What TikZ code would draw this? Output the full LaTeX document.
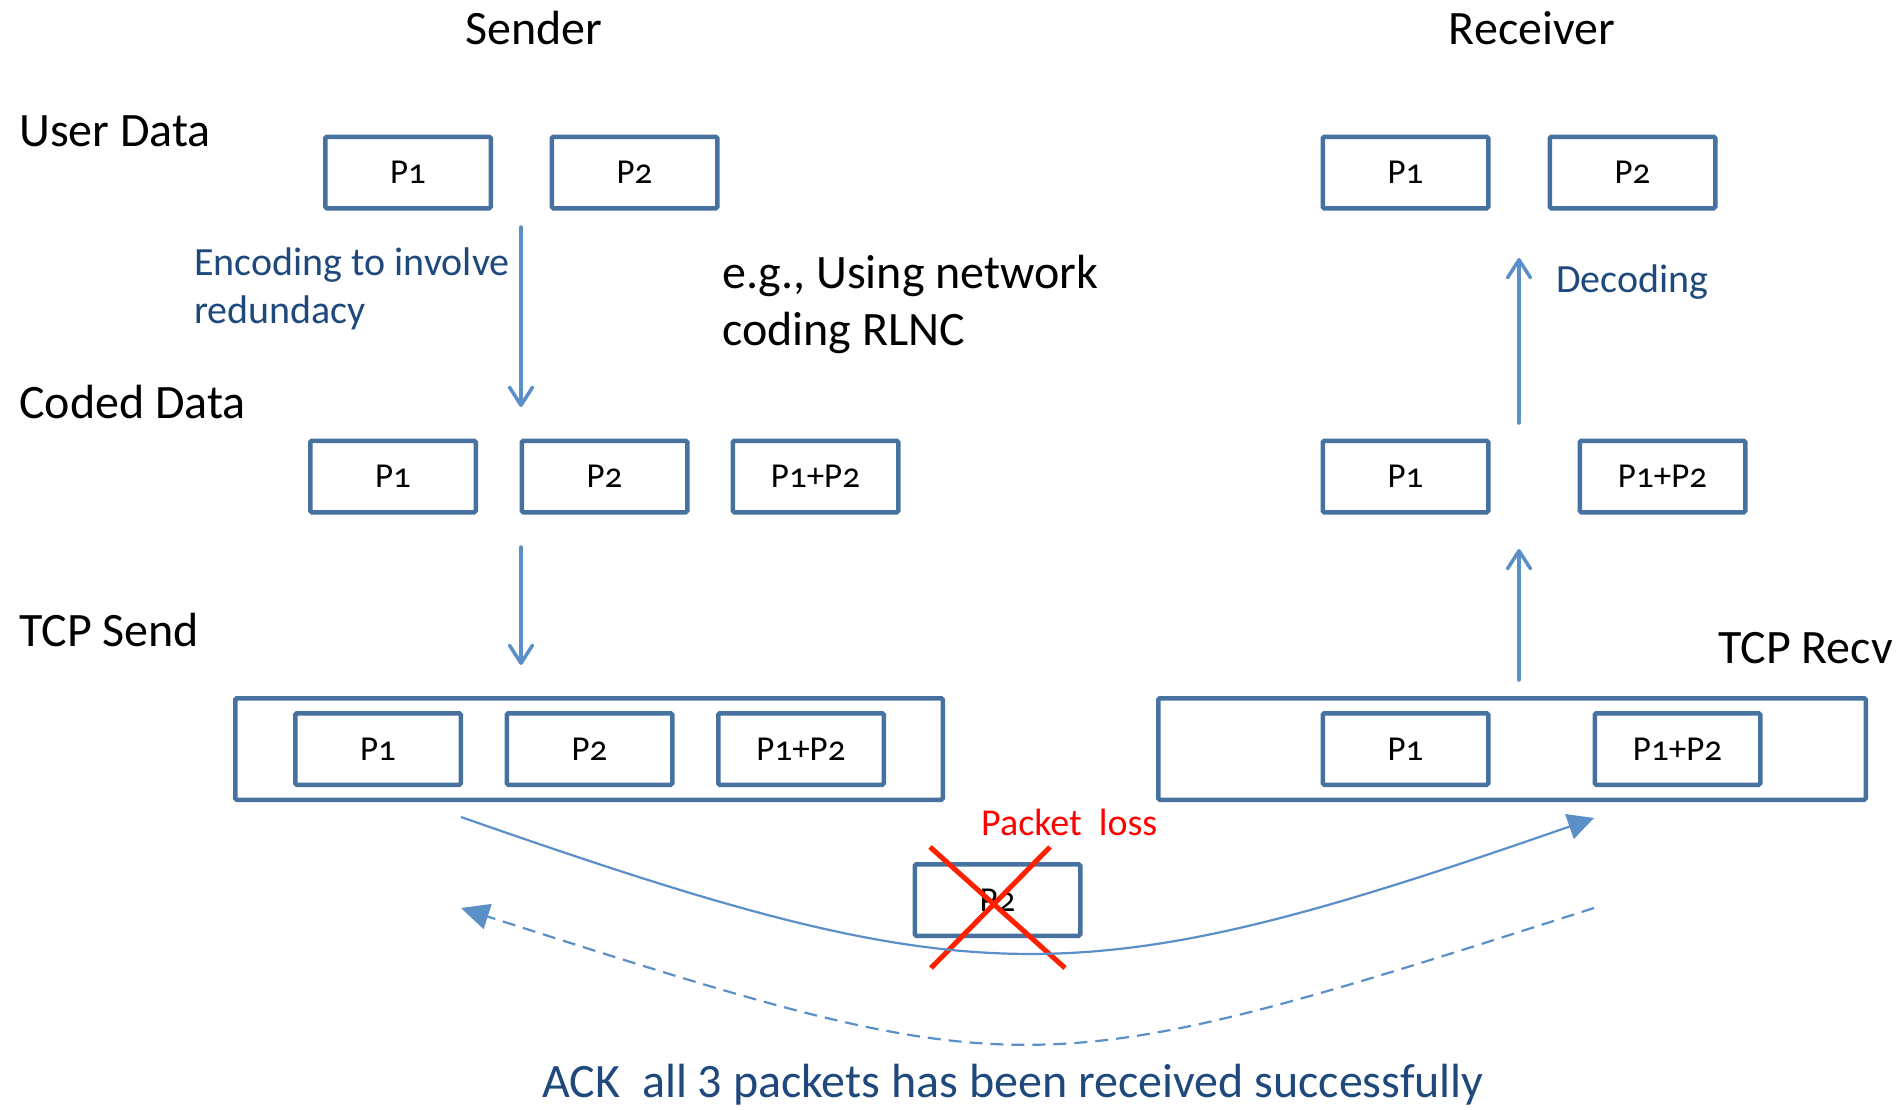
\documentclass[tikz,border=0pt]{standalone}
\usepackage{fontspec}
\setmainfont{Carlito}
\newfontfamily\boxfont[Numbers=OldStyle]{Carlito}
\usetikzlibrary{arrows.meta}
\definecolor{boxc}{RGB}{71,113,159}
\definecolor{arrc}{RGB}{91,143,200}
\definecolor{txtb}{RGB}{31,73,125}
\definecolor{lossred}{RGB}{255,32,0}
\tikzset{
  pbox/.style={draw=boxc, line width=4.5pt, fill=white, rounded corners=1.5pt,
    minimum width=165.5pt, minimum height=71.5pt, inner sep=0pt,
    font=\boxfont\fontsize{35}{40}\selectfont},
  outerbox/.style={draw=boxc, line width=4.5pt, rounded corners=1.5pt,
    minimum width=707.5pt, minimum height=101.5pt, inner sep=0pt},
  big/.style={font=\fontsize{48}{56}\selectfont, inner sep=0pt},
  midtext/.style={font=\fontsize{40}{47}\selectfont, inner sep=0pt, text=txtb},
  varrow/.style={draw=arrc, line width=3.5pt, line cap=round,
    -{Straight Barb[length=18pt,width=23pt,line cap=round,line join=round]}},
  flow/.style={draw=arrc, line width=2.2pt, -{Triangle[length=26pt,width=26pt]}},
  ackflow/.style={draw=arrc, line width=2.2pt, dash pattern=on 13pt off 8pt,
    -{Triangle[length=28pt,width=26pt]}},
  crossline/.style={draw=lossred, line width=5pt}
}
\begin{document}
\begin{tikzpicture}[x=1pt,y=-1pt]
\useasboundingbox (0,0) rectangle (1903,1109);

% headings
\node[big, anchor=base] (sender) at (534,44) {Sender};
\node[big, anchor=base] (receiver) at (1532,44) {Receiver};
\node[big, anchor=base west] (ud) at (19,146) {User Data};
\node[big, anchor=base west] (cd) at (19,418) {Coded Data};
\node[big, anchor=base west] (ts) at (19,646) {TCP Send};
\node[big, anchor=base east] (tr) at (1893,663) {TCP Recv};
\node[big, anchor=base west] (eg1) at (722,288) {e.g., Using network};
\node[big, anchor=base west] (eg2) at (722,345) {coding RLNC};

% user data
\node[pbox] (su1) at (408,172.5) {P1};
\node[pbox] (su2) at (634.5,172.5) {P2};
\node[pbox] (ru1) at (1405.5,172.5) {P1};
\node[pbox] (ru2) at (1632.5,172.5) {P2};

% coded data
\node[pbox] (sc1) at (393,476.5) {P1};
\node[pbox] (sc2) at (604.5,476.5) {P2};
\node[pbox] (sc3) at (815.5,476.5) {P1+P2};
\node[pbox] (rc1) at (1405.5,476.5) {P1};
\node[pbox] (rc3) at (1662.5,476.5) {P1+P2};

% TCP buffers
\node[outerbox] (tsend) at (589,749) {};
\node[outerbox] (trecv) at (1512,749) {};
\node[pbox] (ts1) at (378,749) {P1};
\node[pbox] (ts2) at (589.5,749) {P2};
\node[pbox] (ts3) at (801,749) {P1+P2};
\node[pbox] (tr1) at (1405.5,749) {P1};
\node[pbox] (tr3) at (1677.5,749) {P1+P2};

% lost packet
\node[pbox] (lost) at (997.5,900) {P2};
\coordinate (x1a) at (930,847);
\coordinate (x1b) at (1065,968);
\coordinate (x2a) at (1050,847);
\coordinate (x2b) at (931,968);
\draw[crossline] (x1a) -- (x1b);
\draw[crossline] (x2a) -- (x2b);
\node[inner sep=0pt, anchor=base west, text=red, font=\fontsize{38}{44}\selectfont] (loss) at (981,835) {Packet\hspace{17pt}loss};

% vertical arrows
\coordinate (a1s) at (521,227);
\coordinate (a1e) at (521,407);
\coordinate (a2s) at (521,547);
\coordinate (a2e) at (521,665);
\coordinate (a3s) at (1519,680);
\coordinate (a3e) at (1519,549);
\coordinate (a4s) at (1519,423);
\coordinate (a4e) at (1519,258);
\draw[varrow] (a1s) -- (a1e);
\draw[varrow] (a2s) -- (a2e);
\draw[varrow] (a3s) -- (a3e);
\draw[varrow] (a4s) -- (a4e);

\node[midtext, anchor=base west] (enc1) at (194,275) {Encoding to involve};
\node[midtext, anchor=base west] (enc2) at (194,323) {redundacy};
\node[midtext, anchor=base west] (dec) at (1556,292) {Decoding};

% transmission and ACK
\coordinate (ss) at (461,817);
\coordinate (se) at (1594,818);
\coordinate (ds) at (1594,908);
\coordinate (de) at (461,908);
\draw[flow] (ss) .. controls (978,998) and (1077,998) .. (se);
\draw[ackflow] (ds) .. controls (1029,1089) and (1026,1089) .. (de);

\node[big, anchor=base, text=txtb] (ack) at (1013,1097) {ACK\ \ all 3 packets has been received successfully};
\end{tikzpicture}
\end{document}
